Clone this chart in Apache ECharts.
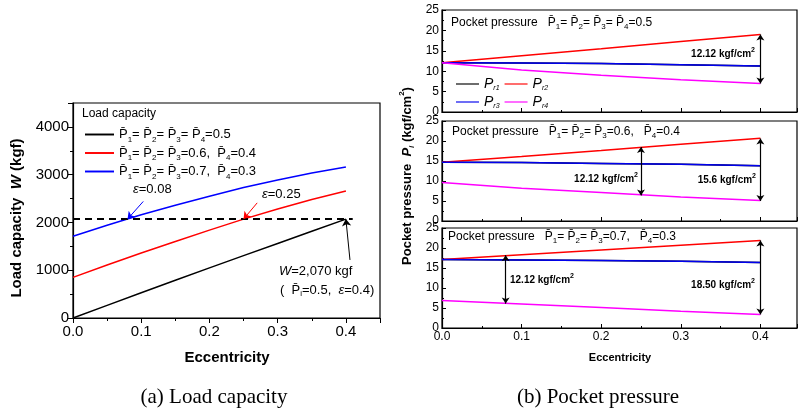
<!DOCTYPE html>
<html>
<head>
<meta charset="utf-8">
<title>Load capacity and pocket pressure</title>
<script src="https://cdn.jsdelivr.net/npm/echarts@6/dist/echarts.min.js"></script>
<style>
  body { margin: 0; background: #fff; }
  #chart { width: 798px; height: 415px; }
</style>
</head>
<body>
<div id="chart"></div>
<script>
// ---- data ----
var ecc = [0, 0.05, 0.1, 0.15, 0.2, 0.25, 0.3, 0.35, 0.4];
var loadBlack = [0, 265, 530, 790, 1050, 1305, 1560, 1815, 2070];
var loadRed = [850, 1110, 1360, 1600, 1840, 2070, 2280, 2480, 2660];
var loadBlue = [1710, 1940, 2160, 2360, 2550, 2730, 2890, 3035, 3160];
var dashX = [0, 0.41];
var dashY = [2070, 2070];

var eccR = [0, 0.1, 0.2, 0.3, 0.4];
// pocket pressure, panel 1 (0.5 / 0.5)
var p1r1 = [12.1, 12.0, 11.9, 11.6, 11.3];
var p1r2 = [12.1, 13.8, 15.5, 17.3, 19.0];
var p1r3 = [12.1, 12.0, 11.9, 11.6, 11.3];
var p1r4 = [12.1, 10.3, 9.0, 7.9, 7.0];
// panel 2 (0.6 / 0.4)
var p2r1 = [14.7, 14.6, 14.4, 14.2, 13.8];
var p2r2 = [14.7, 16.1, 17.6, 19.2, 20.7];
var p2r3 = [14.7, 14.6, 14.4, 14.2, 13.8];
var p2r4 = [9.6, 8.2, 7.1, 6.0, 5.1];
// panel 3 (0.7 / 0.3)
var p3r1 = [17.1, 17.0, 16.9, 16.7, 16.4];
var p3r2 = [17.1, 18.3, 19.5, 20.7, 21.9];
var p3r3 = [17.1, 17.0, 16.9, 16.7, 16.4];
var p3r4 = [6.9, 6.0, 5.1, 4.2, 3.4];

// arrows: [x1, y1, x2, y2]
var leftArrows = [[0.103, 2440, 0.08, 2070], [0.27, 2410, 0.25, 2070], [0.406, 1215, 0.4, 2070]];
var leftArrowColors = ['#0000ff', '#ff0000', '#000000'];
var panelArrows = [
  [[0.4, 19.0, 0.4, 7.0]],
  [[0.25, 18.5, 0.25, 6.4], [0.4, 20.6, 0.4, 5.0]],
  [[0.08, 18.2, 0.08, 6.1], [0.4, 21.9, 0.4, 3.4]]
];

var F = '"Liberation Sans", Arial, sans-serif';
var SERIF = '"Liberation Serif", "Times New Roman", serif';

function zip(xs, ys) {
  return xs.map(function (x, i) { return [x, ys[i]]; });
}

var chart = echarts.init(document.getElementById('chart'));

var richLeg = {
  t: { fontSize: 13, fontFamily: F, lineHeight: 18, color: '#000' },
  s: { fontSize: 8, fontFamily: F, lineHeight: 8, verticalAlign: 'bottom', color: '#000' }
};
function pb(n) { return '{t|P\u0304}{s|' + n + '}'; }
var legNames = {
  L1: pb(1) + '{t|= }' + pb(2) + '{t|= }' + pb(3) + '{t|= }' + pb(4) + '{t|=0.5}',
  L2: pb(1) + '{t|= }' + pb(2) + '{t|= }' + pb(3) + '{t|=0.6,  }' + pb(4) + '{t|=0.4}',
  L3: pb(1) + '{t|= }' + pb(2) + '{t|= }' + pb(3) + '{t|=0.7,  }' + pb(4) + '{t|=0.3}'
};

var richR = {
  i: { fontSize: 14, fontFamily: F, fontStyle: 'italic', lineHeight: 16, color: '#000' },
  s: { fontSize: 7, fontFamily: F, fontStyle: 'italic', lineHeight: 7, verticalAlign: 'bottom', color: '#000' }
};
function rLeg(name) { return '{i|P}{s|r' + name.slice(2) + '}'; }

var richT = {
  t: { fontSize: 12, fontFamily: F, lineHeight: 16, color: '#000' },
  s: { fontSize: 8, fontFamily: F, lineHeight: 8, verticalAlign: 'bottom', color: '#000' }
};
function pt(n) { return '{t|P\u0304}{s|' + n + '}'; }
var titles = [
  '{t|Pocket pressure   }' + pt(1) + '{t|= }' + pt(2) + '{t|= }' + pt(3) + '{t|= }' + pt(4) + '{t|=0.5}',
  '{t|Pocket pressure   }' + pt(1) + '{t|= }' + pt(2) + '{t|= }' + pt(3) + '{t|=0.6,   }' + pt(4) + '{t|=0.4}',
  '{t|Pocket pressure   }' + pt(1) + '{t|= }' + pt(2) + '{t|= }' + pt(3) + '{t|=0.7,   }' + pt(4) + '{t|=0.3}'
];

var richA = {
  b: { fontSize: 10, fontWeight: 'bold', fontFamily: F, lineHeight: 14, color: '#000' },
  sup: { fontSize: 7, fontWeight: 'bold', fontFamily: F, lineHeight: 7, verticalAlign: 'top', color: '#000' }
};
function kgf(v) { return '{b|' + v + ' kgf/cm}{sup|2}'; }

var panelTops = [10, 121, 228];
var panelH = [102, 100, 100];
var panelData = [[p1r1, p1r2, p1r3, p1r4], [p2r1, p2r2, p2r3, p2r4], [p3r1, p3r2, p3r3, p3r4]];
var lineColors = ['#000000', '#ff0000', '#0000ee', '#ff00ff'];

var grids = [{ left: 73, top: 103, width: 307, height: 215, show: true, borderColor: '#000', borderWidth: 1.2, backgroundColor: 'transparent' }];
var xAxes = [{
  gridIndex: 0, type: 'value', min: 0, max: 0.45, interval: 0.1,
  axisLine: { lineStyle: { color: '#000', width: 1.2 } },
  axisTick: { length: 5, lineStyle: { color: '#000' } },
  minorTick: { show: true, splitNumber: 2, length: 3, lineStyle: { color: '#000' } },
  splitLine: { show: false },
  axisLabel: { color: '#000', fontSize: 15, fontFamily: F, margin: 6, showMaxLabel: false,
    formatter: function (v) { return v.toFixed(1); } }
}];
var yAxes = [{
  gridIndex: 0, type: 'value', min: 0, max: 4500, interval: 1000,
  axisLine: { show: true, lineStyle: { color: '#000', width: 1.2 } },
  axisTick: { show: true, length: 5, lineStyle: { color: '#000' } },
  minorTick: { show: true, splitNumber: 2, length: 3, lineStyle: { color: '#000' } },
  splitLine: { show: false },
  axisLabel: { color: '#000', fontSize: 15, fontFamily: F, margin: 4, showMaxLabel: false,
    formatter: function (v) { return String(v); } }
}];

var series = [
  { name: 'L1', type: 'line', xAxisIndex: 0, yAxisIndex: 0, data: zip(ecc, loadBlack), symbol: 'none', lineStyle: { color: '#000', width: 1.5 }, itemStyle: { color: '#000' },
    markLine: {
      silent: true, symbol: ['none', 'arrow'], symbolSize: 7, label: { show: false },
      data: leftArrows.map(function (a, i) {
        return [{ coord: [a[0], a[1]], lineStyle: { color: leftArrowColors[i], width: 1, type: 'solid' }, itemStyle: { color: leftArrowColors[i] } }, { coord: [a[2], a[3]] }];
      })
    } },
  { name: 'L2', type: 'line', xAxisIndex: 0, yAxisIndex: 0, data: zip(ecc, loadRed), symbol: 'none', lineStyle: { color: '#ff0000', width: 1.5 }, itemStyle: { color: '#ff0000' } },
  { name: 'L3', type: 'line', xAxisIndex: 0, yAxisIndex: 0, data: zip(ecc, loadBlue), symbol: 'none', lineStyle: { color: '#0000ff', width: 1.5 }, itemStyle: { color: '#0000ff' } },
  { name: 'dash', type: 'line', xAxisIndex: 0, yAxisIndex: 0, data: zip(dashX, dashY), symbol: 'none', lineStyle: { color: '#000', width: 2, type: [7, 5] } }
];

panelTops.forEach(function (top, p) {
  var gi = p + 1;
  var last = p === 2;
  grids.push({ left: 442, top: top, width: 355, height: panelH[p], show: true, borderColor: '#000', borderWidth: 1.2, backgroundColor: 'transparent' });
  xAxes.push({
    gridIndex: gi, type: 'value', min: 0, max: 0.446, interval: 0.1,
    axisLine: { lineStyle: { color: '#000', width: 1.2 } },
    axisTick: { inside: true, length: 4, lineStyle: { color: '#000' } },
    minorTick: { show: true, splitNumber: 2, length: 2, lineStyle: { color: '#000' } },
    splitLine: { show: false },
    axisLabel: { show: last, color: '#000', fontSize: 12, fontFamily: F, margin: 3, showMaxLabel: false,
      formatter: function (v) { return v.toFixed(1); } }
  });
  yAxes.push({
    gridIndex: gi, type: 'value', min: 0, max: 25, interval: 5,
    axisLine: { show: true, lineStyle: { color: '#000', width: 1.2 } },
    axisTick: { show: true, inside: true, length: 4, lineStyle: { color: '#000' } },
    minorTick: { show: true, splitNumber: 2, length: 2, lineStyle: { color: '#000' } },
    splitLine: { show: false },
    axisLabel: { color: '#000', fontSize: 12, fontFamily: F, margin: 3 }
  });
  panelData[p].forEach(function (ys, k) {
    var s = {
      name: 'Pr' + (k + 1), type: 'line', xAxisIndex: gi, yAxisIndex: gi, data: zip(eccR, ys),
      symbol: 'none', lineStyle: { color: lineColors[k], width: 1.5 }, itemStyle: { color: lineColors[k] }
    };
    if (k === 0) {
      s.markLine = {
        silent: true, symbol: ['arrow', 'arrow'], symbolSize: 6, label: { show: false },
        lineStyle: { color: '#000', width: 1.2, type: 'solid' },
        data: panelArrows[p].map(function (a) { return [{ coord: [a[0], a[1]] }, { coord: [a[2], a[3]] }]; })
      };
    }
    series.push(s);
  });
});

chart.setOption({
  animation: false,
  backgroundColor: '#fff',
  grid: grids,
  xAxis: xAxes,
  yAxis: yAxes,
  legend: [
    {
      orient: 'vertical', data: ['L1', 'L2', 'L3'], left: 80, top: 123, itemWidth: 29, itemHeight: 14, itemGap: 3,
      selectedMode: false, icon: 'path://M0,6 L30,6 L30,8 L0,8 Z',
      formatter: function (n) { return legNames[n]; },
      textStyle: { rich: richLeg }
    },
    {
      data: ['Pr1', 'Pr2'], left: 451, top: 72, itemWidth: 23, itemHeight: 14, itemGap: 5, selectedMode: false,
      icon: 'path://M0,6 L30,6 L30,7.5 L0,7.5 Z',
      formatter: rLeg, textStyle: { rich: richR }
    },
    {
      data: ['Pr3', 'Pr4'], left: 451, top: 90, itemWidth: 23, itemHeight: 14, itemGap: 5, selectedMode: false,
      icon: 'path://M0,6 L30,6 L30,7.5 L0,7.5 Z',
      formatter: rLeg, textStyle: { rich: richR }
    }
  ],
  series: series,
  graphic: [
    { type: 'text', x: 82, y: 108, style: { text: 'Load capacity', font: '12px ' + F, fill: '#000' } },
    { type: 'text', x: 17, y: 218, rotation: Math.PI / 2, style: {
      text: '{b|Load capacity  }{bi|W}{b| (kgf)}', align: 'center', verticalAlign: 'middle',
      rich: { b: { font: 'bold 15px ' + F, fill: '#000' }, bi: { font: 'italic bold 15px ' + F, fill: '#000' } } } },
    { type: 'text', x: 227, y: 350, style: { text: 'Eccentricity', font: 'bold 15px ' + F, fill: '#000', align: 'center' } },
    { type: 'text', x: 133, y: 183, style: {
      text: '{i|\u03b5}{t|=0.08}', rich: { i: { font: 'italic 13px ' + F, fill: '#000' }, t: { font: '13px ' + F, fill: '#000' } } } },
    { type: 'text', x: 262, y: 188, style: {
      text: '{i|\u03b5}{t|=0.25}', rich: { i: { font: 'italic 13px ' + F, fill: '#000' }, t: { font: '13px ' + F, fill: '#000' } } } },
    { type: 'text', x: 279, y: 265, style: {
      text: '{i|W}{t|=2,070 kgf}', rich: { i: { font: 'italic 13px ' + F, fill: '#000' }, t: { font: '13px ' + F, fill: '#000' } } } },
    { type: 'text', x: 280, y: 282, style: {
      text: '{t|(  }{t|P\u0304}{s|i}{t|=0.5,  }{i|\u03b5}{t|=0.4)}',
      rich: { i: { font: 'italic 13px ' + F, fill: '#000', lineHeight: 16 }, t: { font: '13px ' + F, fill: '#000', lineHeight: 16 },
        s: { font: '8px ' + F, fill: '#000', lineHeight: 8, verticalAlign: 'bottom' } } } },
    // right side
    { type: 'text', x: 407, y: 176, rotation: Math.PI / 2, style: {
      text: '{b|Pocket pressure  }{bi|P}{bs|i}{b| (kgf/cm}{sup|2}{b|)}', align: 'center', verticalAlign: 'middle',
      rich: {
        b: { font: 'bold 13px ' + F, fill: '#000', lineHeight: 18 },
        bi: { font: 'italic bold 13px ' + F, fill: '#000', lineHeight: 18 },
        bs: { font: 'italic bold 8px ' + F, fill: '#000', lineHeight: 8, verticalAlign: 'bottom' },
        sup: { font: 'bold 8px ' + F, fill: '#000', lineHeight: 8, verticalAlign: 'top' }
      } } },
    { type: 'text', x: 620, y: 352, style: { text: 'Eccentricity', font: 'bold 11px ' + F, fill: '#000', align: 'center' } },
    { type: 'text', x: 451, y: 15, style: { text: titles[0], rich: richT } },
    { type: 'text', x: 452, y: 124, style: { text: titles[1], rich: richT } },
    { type: 'text', x: 448, y: 229, style: { text: titles[2], rich: richT } },
    { type: 'text', x: 755, y: 54, style: { text: kgf('12.12'), rich: richA, align: 'right', verticalAlign: 'middle' } },
    { type: 'text', x: 638, y: 179, style: { text: kgf('12.12'), rich: richA, align: 'right', verticalAlign: 'middle' } },
    { type: 'text', x: 756, y: 180, style: { text: kgf('15.6'), rich: richA, align: 'right', verticalAlign: 'middle' } },
    { type: 'text', x: 510, y: 280, style: { text: kgf('12.12'), rich: richA, align: 'left', verticalAlign: 'middle' } },
    { type: 'text', x: 755, y: 285, style: { text: kgf('18.50'), rich: richA, align: 'right', verticalAlign: 'middle' } },
    // captions
    { type: 'text', x: 214, y: 397, style: { text: '(a) Load capacity', font: '21px ' + SERIF, fill: '#000', align: 'center', verticalAlign: 'middle' } },
    { type: 'text', x: 598, y: 397, style: { text: '(b) Pocket pressure', font: '21px ' + SERIF, fill: '#000', align: 'center', verticalAlign: 'middle' } }
  ]
});
</script>
</body>
</html>
